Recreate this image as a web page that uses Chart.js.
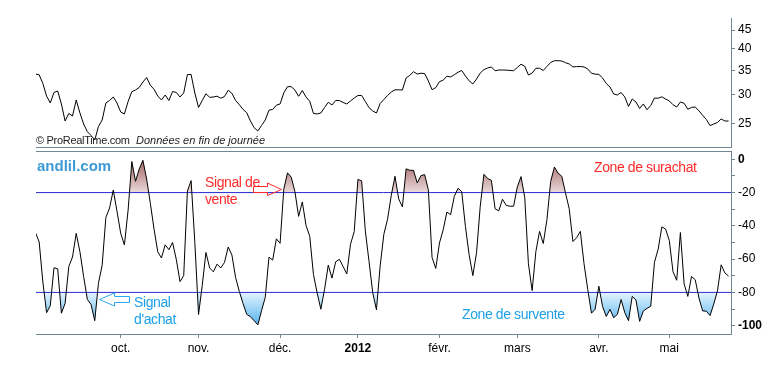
<!DOCTYPE html>
<html><head><meta charset="utf-8">
<script src="https://cdn.jsdelivr.net/npm/chart.js@4.4.1/dist/chart.umd.min.js"></script>
<style>
html,body{margin:0;padding:0;background:#fff;}
#wrap{position:relative;width:763px;height:382px;overflow:hidden;font-family:"Liberation Sans",Arial,sans-serif;}
canvas{position:absolute;left:0;top:0;}
svg{position:absolute;left:0;top:0;}
.t{position:absolute;white-space:nowrap;line-height:1;}
.ann{font-size:14px;letter-spacing:-0.4px;}
</style></head><body>
<div id="wrap">
<canvas id="c1" width="763" height="382"></canvas>
<canvas id="c2" width="763" height="382"></canvas>
<svg width="763" height="382">
  <polygon points="253.5,186.5 267.5,186.5 267.5,183 281.5,189.5 267.5,195.5 267.5,192.5 253.5,192.5" fill="none" stroke="#ff2a2a" stroke-width="1"/>
  <polygon points="99.5,299.5 114.5,293 114.5,296.5 129.5,296.5 129.5,302.5 114.5,302.5 114.5,306" fill="none" stroke="#2aa8f0" stroke-width="1"/>
</svg>
<div class="t" style="left:36px;top:135px;font-size:11px;color:#222;letter-spacing:-0.3px;">© ProRealTime.com</div>
<div class="t" style="left:136px;top:135px;font-size:11px;color:#222;font-style:italic;">Données en fin de journée</div>
<div class="t" style="left:37px;top:158px;font-size:15px;font-weight:bold;color:#3e9ad6;">andlil.com</div>
<div class="t ann" style="left:205px;top:174.5px;color:#ff2a2a;">Signal de</div>
<div class="t ann" style="left:205px;top:191.5px;color:#ff2a2a;">vente</div>
<div class="t ann" style="left:594px;top:159.5px;color:#ff2a2a;">Zone de surachat</div>
<div class="t ann" style="left:462px;top:307px;color:#1ea0e6;">Zone de survente</div>
<div class="t ann" style="left:134px;top:295px;color:#1ea0e6;">Signal</div>
<div class="t ann" style="left:134px;top:312px;color:#1ea0e6;">d'achat</div>
</div>
<script>
// ---- data ----
const price = [34.17,34.02,32.21,29.78,28.51,30.45,30.73,28.34,25.47,26.70,
26.28,29.05,26.78,25.00,23.83,23.27,22.62,24.61,25.63,28.51,
28.96,29.60,28.51,26.95,26.62,28.78,30.60,30.92,31.41,32.51,
33.43,31.85,31.06,29.78,29.05,29.97,28.96,30.63,30.45,29.60,
30.35,34.06,34.06,30.35,27.72,28.96,30.22,29.54,29.60,29.75,
29.37,29.69,30.88,30.29,28.96,28.21,27.38,26.83,25.47,24.43,
23.93,24.77,25.63,27.26,27.38,28.12,28.34,30.35,31.57,31.57,
30.92,29.73,30.82,29.60,28.82,26.71,26.62,26.78,27.72,28.64,
28.16,28.96,28.96,28.60,28.34,28.87,29.41,29.88,29.88,28.78,
27.69,27.12,26.78,28.42,29.14,29.88,30.54,30.96,30.96,30.92,
33.33,33.90,34.66,34.17,34.34,34.28,32.72,30.98,31.39,32.58,
32.88,33.71,33.54,34.02,34.55,34.93,33.75,32.76,32.11,33.12,
34.38,35.13,35.49,35.72,34.88,35.04,35.04,35.02,34.95,34.88,
35.60,36.33,35.88,33.96,34.38,35.42,35.42,34.93,35.83,36.73,
37.14,37.14,37.07,36.68,36.39,35.72,35.79,35.81,35.72,35.27,
34.34,34.15,34.10,33.33,32.21,31.51,30.16,29.97,30.45,29.60,
27.90,29.23,28.69,27.55,28.34,27.34,28.07,29.41,29.37,29.63,
29.23,28.87,28.21,27.79,28.69,28.46,27.42,27.74,27.79,27.16,
26.40,25.71,24.75,25.00,25.24,25.80,25.47,25.47];

const williamsR = [-44,-49.6,-73.7,-92.2,-88,-65.2,-65.8,-92.5,-86.6,-64.4,
-58.7,-44.5,-55.6,-70.4,-84.2,-87.3,-97,-74.5,-63.6,-35,
-29.2,-18.5,-31.2,-44.4,-51.5,-30.5,-1.3,-13.2,-5.8,-0.6,
-11.9,-26.5,-42,-55.6,-59.3,-51.4,-54.3,-50,-60.2,-73.5,
-69.9,-19,-12.8,-50,-93.3,-75.8,-56,-65.3,-67.6,-63,
-65.3,-62,-52.7,-57.5,-71,-79.4,-86.7,-93.2,-94.6,-97,
-99.5,-91,-83,-58.8,-60.6,-47.8,-50.5,-18,-8.1,-10.7,
-19.4,-34.3,-25.6,-39.7,-46.3,-69.2,-80.3,-90.1,-78.1,-63.6,
-71.4,-61.6,-60.1,-64.4,-68.9,-51,-43.5,-12.1,-12.9,-43,
-61.5,-80.3,-90.5,-64,-45,-36,-21.6,-10.2,-23.8,-28.6,
-5.7,-6.6,-6.6,-14.2,-9.8,-9.2,-18.3,-59,-65.6,-50.3,
-42.4,-31.7,-33.3,-22.3,-17.4,-19.4,-40.3,-57.3,-69.9,-56.2,
-28.2,-9,-11.6,-12.6,-29.7,-31,-24,-27.7,-28.2,-28.2,
-16.6,-10.4,-22.8,-62.8,-78.9,-55.5,-43.3,-50.6,-36.1,-13.4,
-4.6,-8.3,-10.2,-20.2,-29.7,-49.4,-47.1,-43.3,-62.7,-78.2,
-92.5,-90.1,-76.3,-88.5,-94.4,-90.2,-95.2,-93.2,-84.3,-92.2,
-97,-82.4,-84.5,-97.4,-91.2,-89.6,-88.3,-61.9,-54,-40.6,
-41.9,-48.8,-67.5,-72.7,-44,-74.8,-82.4,-70.4,-72.4,-83.3,
-91.1,-91.3,-93.9,-87,-79,-63.4,-68.3,-70.2];

const monthIndex = [23,44,66,87,109,130,152,171];
const monthLabels = ['oct.','nov.','déc.','2012','févr.','mars','avr.','mai'];
const priceTicks = [25,30,35,40,45];
const wrTicks = [0,-10,-20,-30,-40,-50,-60,-70,-80,-90,-100];
const overbought = -20;
const oversold = -80;

// ---- style ----
const FONT = '"Liberation Sans", Arial, sans-serif';
const AXIS = '#6f8993';
const X_MIN = 0.15, X_MAX = 187.65;

const pricePts = price.map((v,i)=>({x:i,y:v}));
const wrPts = williamsR.map((v,i)=>({x:i,y:v}));
const level = v => [{x:X_MIN,y:v},{x:X_MAX,y:v}];

function brownFill(ctx){
  const ch = ctx.chart, y = ch.scales && ch.scales.y;
  if(!y || !ch.chartArea) return 'rgba(0,0,0,0)';
  const g = ch.ctx.createLinearGradient(0,y.getPixelForValue(0),0,y.getPixelForValue(overbought));
  g.addColorStop(0,'#a26262'); g.addColorStop(1,'#eadada');
  return g;
}
function blueFill(ctx){
  const ch = ctx.chart, y = ch.scales && ch.scales.y;
  if(!y || !ch.chartArea) return 'rgba(0,0,0,0)';
  const g = ch.ctx.createLinearGradient(0,y.getPixelForValue(oversold),0,y.getPixelForValue(-100));
  g.addColorStop(0,'#e4f4fd'); g.addColorStop(1,'#52b2ef');
  return g;
}

const common = {responsive:false,animation:false,events:[],
  plugins:{legend:{display:false},tooltip:{enabled:false}},
  elements:{point:{radius:0},line:{tension:0}}};

new Chart(document.getElementById('c1'),{
  type:'line',
  data:{datasets:[{data:pricePts,borderColor:'#000',borderWidth:1,fill:false}]},
  options:Object.assign({},common,{
    layout:{padding:{left:36,top:18,right:0,bottom:235}},
    scales:{
      x:{type:'linear',min:X_MIN,max:X_MAX,grid:{display:false},ticks:{display:false},
         border:{display:true,color:AXIS,width:1},afterFit:s=>{s.height=0;}},
      y:{type:'logarithmic',position:'right',min:21.65,max:48.51,
         afterBuildTicks:s=>{s.ticks=priceTicks.map(v=>({value:v}));},
         ticks:{callback:v=>String(v),color:'#000',font:{family:FONT,size:12},padding:3},
         grid:{display:true,drawOnChartArea:false,drawTicks:true,tickLength:4,color:AXIS},
         border:{display:true,color:AXIS},afterFit:s=>{s.width=32;}}
    }
  })
});

const chart2 = new Chart(document.getElementById('c2'),{
  type:'line',
  data:{datasets:[
    {data:wrPts,borderColor:'#000',borderWidth:1,fill:false},
    {data:level(overbought),borderColor:'#2b2bd6',borderWidth:1,fill:false},
    {data:level(oversold),borderColor:'#2b2bd6',borderWidth:1,fill:false},
    {data:wrPts,borderColor:'rgba(0,0,0,0)',borderWidth:0,backgroundColor:brownFill,
     fill:{target:{value:overbought},below:'rgba(0,0,0,0)'}},
    {data:wrPts,borderColor:'rgba(0,0,0,0)',borderWidth:0,backgroundColor:blueFill,
     fill:{target:{value:oversold},above:'rgba(0,0,0,0)'}}
  ]},
  options:Object.assign({},common,{
    layout:{padding:{left:36,top:151,right:0,bottom:28}},
    scales:{
      x:{type:'linear',min:X_MIN,max:X_MAX,
         afterBuildTicks:s=>{s.ticks=monthIndex.map(v=>({value:v}));},
         ticks:{autoSkip:false,maxRotation:0,padding:3,color:'#000',
           callback:v=>{const k=monthIndex.indexOf(v);return k>=0?monthLabels[k]:'';},
           font:c=>({family:FONT,size:12,weight:(c.tick&&c.tick.value===87)?'bold':'normal'})},
         grid:{display:true,drawOnChartArea:false,tickLength:4,color:AXIS},
         border:{display:true,color:AXIS},afterFit:s=>{s.height=20;}},
      xTop:{type:'linear',position:'top',min:0,max:1,grid:{display:false},ticks:{display:false},
         border:{display:true,color:AXIS},afterFit:s=>{s.height=0;}},
      y:{position:'right',min:-105,max:5,
         afterBuildTicks:s=>{s.ticks=wrTicks.map(v=>({value:v}));},
         ticks:{padding:3,color:'#000',callback:v=>(v%20===0?String(v):''),
           font:c=>({family:FONT,size:12,weight:(c.tick&&(c.tick.value===0||c.tick.value===-100))?'bold':'normal'})},
         grid:{display:true,drawOnChartArea:false,tickLength:4,color:AXIS},
         border:{display:true,color:AXIS},afterFit:s=>{s.width=32;}}
    }
  })
});
chart2.update('none');
</script>
</body></html>
